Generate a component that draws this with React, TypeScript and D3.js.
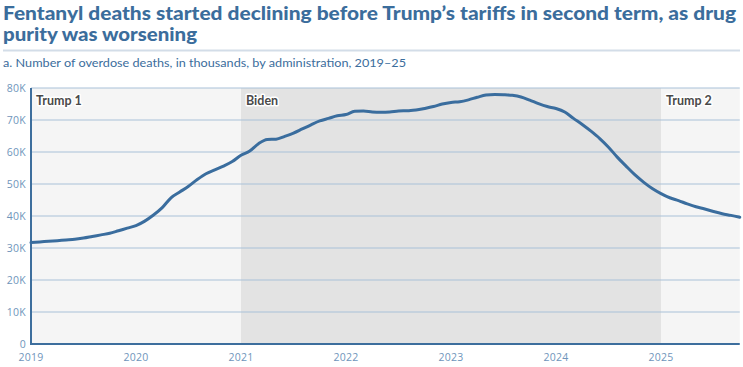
import React, { useEffect } from "react";
import * as d3 from "d3";

const W = 743;
const H = 367;

const startYear = 2019;
const deaths: number[] = [
  31.7, 31.9, 32.1, 32.3, 32.5, 32.7, 33.1, 33.6, 34.1, 34.6, 35.4, 36.2,
  37.0, 38.4, 40.3, 42.6, 45.7, 47.5, 49.3, 51.4, 53.2, 54.4, 55.6, 57.0,
  59.0, 60.3, 62.6, 63.9, 64.0, 64.9, 65.9, 67.2, 68.5, 69.7, 70.5, 71.3,
  71.7, 72.7, 72.8, 72.5, 72.4, 72.5, 72.8, 72.9, 73.1, 73.6, 74.2, 75.0,
  75.5, 75.7, 76.3, 77.1, 77.8, 78.0, 77.9, 77.7, 77.2, 76.2, 75.1, 74.2,
  73.6, 72.5, 70.5, 68.6, 66.5, 64.2, 61.5, 58.4, 55.6, 52.9, 50.6, 48.6,
  47.0, 45.7, 44.8, 43.8, 42.9, 42.2, 41.4, 40.7, 40.2, 39.6,
];

const yTicks = [0, 10, 20, 30, 40, 50, 60, 70, 80];
const yTickLabels = ["0", "10K", "20K", "30K", "40K", "50K", "60K", "70K", "80K"];
const xTicks = [2019, 2020, 2021, 2022, 2023, 2024, 2025];

const eras = [
  { name: "Trump 1", start: 2019, end: 2021, fill: "#f5f5f5" },
  { name: "Biden", start: 2021, end: 2025, fill: "#e3e3e3" },
  { name: "Trump 2", start: 2025, end: 2025.75, fill: "#f5f5f5" },
];

const title1 = "Fentanyl deaths started declining before Trump\u2019s tariffs in second term, as drug";
const title2 = "purity was worsening";
const subtitle = "a. Number of overdose deaths, in thousands, by administration, 2019\u201325";

export default function App() {
  useEffect(() => {
    document.body.style.margin = "0";
  }, []);

  const left = 31;
  const right = 739.75;
  const top = 88;
  const bottom = 344;

  const x = d3.scaleLinear().domain([2019, 2025.75]).range([left, right]);
  const y = d3.scaleLinear().domain([0, 80]).range([bottom, top]);

  const pts = deaths.map((v, i) => [startYear + i / 12, v] as [number, number]);
  const line = d3
    .line<[number, number]>()
    .x((d) => x(d[0]))
    .y((d) => y(d[1]))
    .curve(d3.curveMonotoneX);

  const titleColor = "#3b6d9c";
  const tickColor = "#6f95bb";
  const font = "Lato, 'Open Sans', sans-serif";
  const tickFont = "'Open Sans', sans-serif";

  return (
    <svg width={W} height={H} style={{ position: "absolute", left: 0, top: 0, display: "block" }}>
      <rect x={0} y={0} width={W} height={H} fill="#ffffff" />
      <text x={3} y={20} fontFamily={font} fontWeight={900} fontSize={19} fill={titleColor}
        textLength={733} lengthAdjust="spacingAndGlyphs">
        {title1}
      </text>
      <text x={3} y={41} fontFamily={font} fontWeight={900} fontSize={19} fill={titleColor}
        textLength={194} lengthAdjust="spacingAndGlyphs">
        {title2}
      </text>
      <line x1={3} x2={740} y1={50.5} y2={50.5} stroke="#d3dde8" strokeWidth={2} />
      <text x={3} y={67} fontFamily={font} fontSize={11.5} fill={titleColor}
        textLength={403} lengthAdjust="spacingAndGlyphs">
        {subtitle}
      </text>

      {eras.map((e) => (
        <rect key={e.name} x={x(e.start)} y={top} width={x(e.end) - x(e.start)} height={bottom - top} fill={e.fill} />
      ))}

      {yTicks.map((t, i) => (
        <g key={t}>
          {t > 0 && (
            <line x1={left} x2={right} y1={y(t)} y2={y(t)} stroke="#a9c1d8" strokeWidth={1} />
          )}
          <text x={26} y={y(t) + 3.5} textAnchor="end" fontFamily={tickFont} fontSize={10.5}
            letterSpacing={0.3} fill={tickColor}>
            {yTickLabels[i]}
          </text>
        </g>
      ))}

      {xTicks.map((t) => (
        <text key={t} x={x(t)} y={361} textAnchor="middle" fontFamily={tickFont} fontSize={10.5}
          letterSpacing={0.3} fill={tickColor}>
          {t}
        </text>
      ))}

      <line x1={left} x2={right} y1={bottom} y2={bottom} stroke="#3d6e9d" strokeWidth={2} />
      <line x1={left} x2={left} y1={top} y2={bottom + 1} stroke="#3d6e9d" strokeWidth={2} />

      <path d={line(pts) || ""} fill="none" stroke="#3a6d9e" strokeWidth={3} strokeLinejoin="round" strokeLinecap="round" />

      {eras.map((e) => (
        <text key={e.name} x={x(e.start) + 5} y={105} fontFamily={font} fontWeight={700} fontSize={12.5}
          fill="#4a4a4a" stroke="#ffffff" strokeWidth={3} paintOrder="stroke" strokeLinejoin="round">
          {e.name}
        </text>
      ))}
    </svg>
  );
}
